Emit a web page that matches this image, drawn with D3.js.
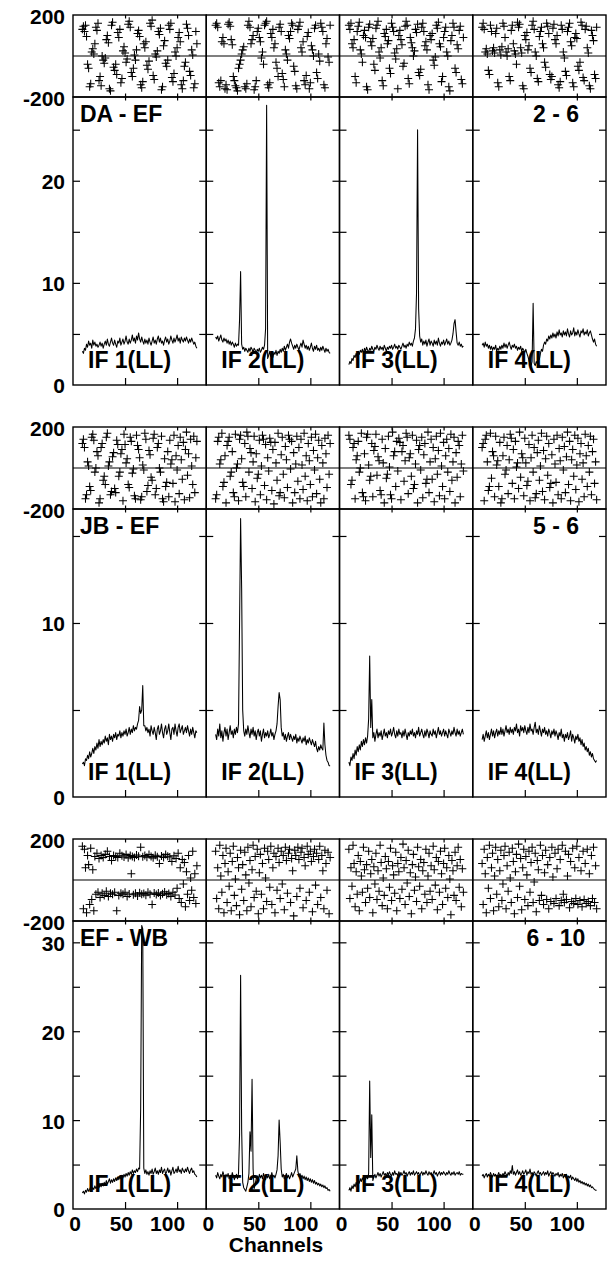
<!DOCTYPE html>
<html><head><meta charset="utf-8">
<script src="https://cdn.jsdelivr.net/npm/d3@7"></script>
<style>
body{margin:0;background:#fff}
svg{display:block}
text{font-family:"Liberation Sans",Arial,Helvetica,sans-serif;font-weight:bold;fill:#000}
</style>
</head><body>
<svg id="chart" width="607" height="1262"></svg>
<script>
// ---------- data ----------
const firstChannel = 9;               // first plotted channel of every IF
const channelDomain = [0, 128];
const channelTicks = [0, 50, 100];
const ifLabels = ["IF 1(LL)", "IF 2(LL)", "IF 3(LL)", "IF 4(LL)"];
const baselineNames = ["DA - EF", "JB - EF", "EF - WB"];
const antennaPairs = ["2 - 6", "5 - 6", "6 - 10"];
const phaseDomain = [-200, 200];
const phaseTickLabels = [-200, 200];
const ampMax = [28.2, 16.55, 32.4];
const ampTickLabels = [[0, 10, 20], [0, 10], [0, 10, 20, 30]];
const ampMinorStep = 5;

// amplitudes, channels 9..119
const ampDAEF1 = [3.3,3.1,3.6,3.4,4.0,3.7,4.3,3.9,4.1,3.6, 4.4,3.9,4.2,3.8,4.0,3.7,3.9,4.2,3.8,4.1, 3.6,4.0,4.3,3.9,4.5,4.0,3.8,4.2,4.6,4.1, 3.9,4.4,4.0,3.7,4.3,4.1,4.6,3.9,4.2,4.5, 4.0,4.3,4.8,4.2,4.0,4.5,4.1,4.4,4.9,4.3, 4.6,4.1,4.8,4.4,5.1,4.5,4.2,4.7,4.3,4.0, 4.5,4.1,4.4,4.0,4.6,4.2,3.9,4.3,4.7,4.1, 4.4,4.0,4.5,4.8,4.2,4.6,4.1,4.3,3.9,4.4, 4.7,4.2,4.5,4.0,4.3,4.8,4.4,4.1,4.6,4.2, 4.5,4.9,4.3,4.6,4.1,4.7,4.4,4.2,4.6,4.3, 4.7,4.4,4.1,4.5,4.2,4.6,4.3,4.0,4.2,3.8,3.6];
const ampDAEF2 = [4.7,4.5,4.8,4.3,4.6,4.9,4.4,4.2,4.6,4.3, 4.5,4.1,4.4,4.0,4.3,3.9,4.2,4.0,3.7,4.1, 3.8,4.0,3.9,6.4,11.1,4.0,3.5,3.7,3.3,3.6, 3.4,3.2,3.6,3.3,3.7,3.5,3.2,3.6,3.4,3.1, 3.5,3.3,3.6,3.2,3.4,3.7,3.5,3.9,5.5,27.4, 2.6,2.9,3.3,2.8,3.1,2.7,3.2,3.0,3.4,2.9, 3.3,3.1,3.5,3.2,3.6,3.3,3.8,3.4,3.7,4.0, 3.6,4.2,4.5,4.1,3.8,3.5,3.9,3.6,4.0,3.7, 3.4,3.8,4.1,3.7,4.4,4.0,3.6,3.9,3.5,3.8, 3.4,3.7,4.1,3.6,3.3,3.8,3.5,3.9,3.4,3.6, 3.3,3.7,3.4,3.8,3.5,3.2,3.6,3.3,3.5,3.2,3.1];
const ampDAEF3 = [2.0,2.3,2.1,2.6,2.4,2.9,2.7,3.1,2.8,3.3, 3.0,3.4,3.2,3.5,3.1,3.6,3.3,3.7,3.4,3.2, 3.6,3.4,3.8,3.5,3.3,3.7,3.5,3.9,3.6,3.4, 3.8,3.5,3.7,3.4,3.9,3.6,3.3,3.7,3.5,3.8, 3.6,3.9,3.5,3.7,4.0,3.6,3.8,3.5,3.9,3.7, 3.5,3.8,4.1,3.7,3.9,3.6,4.0,3.8,4.2,3.9, 4.1,3.8,4.3,4.6,5.5,9.0,25.0,7.5,4.8,4.2, 4.5,3.9,4.3,4.0,4.4,3.8,4.2,4.5,3.9,4.3, 4.1,3.8,4.4,4.0,4.3,3.9,4.6,4.1,3.8,4.2, 4.0,4.4,3.9,4.2,4.5,4.0,4.3,3.9,4.1,4.4, 5.0,6.0,6.4,5.2,4.1,3.9,4.2,3.8,4.0,3.7,3.8];
const ampDAEF4 = [3.9,4.1,3.7,4.2,3.8,4.0,3.6,3.9,3.5,3.8, 3.4,3.7,3.5,3.9,3.3,3.6,3.4,3.8,3.5,3.9, 3.6,4.1,3.7,4.0,3.6,3.9,4.2,3.8,3.5,3.9, 3.7,4.0,3.6,3.8,3.4,3.7,3.5,3.8,3.3,3.6, 3.4,3.2,3.5,3.1,2.8,2.4,2.1,1.9,2.3,8.0, 2.1,1.9,2.3,2.1,2.7,2.5,3.1,3.5,3.3,3.9, 4.2,4.0,4.5,4.3,4.8,4.5,4.9,4.6,5.1,4.7, 5.0,4.6,5.2,4.8,5.4,4.9,5.1,4.7,5.3,4.9, 5.2,4.8,5.5,5.0,4.7,5.3,4.9,5.1,5.6,4.8, 5.2,4.9,5.4,5.0,4.7,5.3,5.1,5.5,4.9,5.2, 5.0,5.4,4.8,5.1,5.3,4.9,4.5,4.2,4.5,4.0,3.8];
const ampJBEF1 = [1.9,2.0,1.8,2.2,2.1,2.4,2.2,2.6,2.3,2.5, 2.8,2.5,2.9,2.7,3.1,2.8,3.3,2.9,3.2,3.0, 3.3,3.1,3.5,3.2,3.4,3.0,3.6,3.3,3.5,3.2, 3.6,3.4,3.7,3.3,3.6,3.5,3.8,3.4,3.7,3.5, 3.8,3.6,3.9,3.5,3.7,4.0,3.6,3.9,3.7,4.1, 3.8,4.0,3.9,4.2,4.4,5.2,4.8,5.0,6.4,4.1, 4.1,3.8,4.0,3.7,3.9,3.5,4.1,3.8,3.6,4.0, 3.7,3.3,3.9,4.1,3.6,3.8,4.2,3.7,3.4,3.9, 4.1,3.6,3.8,4.2,3.7,3.3,3.9,4.0,3.6,4.2, 3.8,3.5,4.0,4.2,3.7,3.9,4.1,3.6,3.8,4.0, 3.7,4.1,3.8,3.5,3.9,3.6,4.0,3.7,3.4,3.8,3.7];
const ampJBEF2 = [3.6,3.3,3.9,3.5,4.2,3.4,3.8,3.2,3.7,4.0, 3.5,3.9,3.3,3.7,4.1,3.6,3.8,3.4,3.9,3.6, 4.0,3.7,4.2,10.0,16.0,12.0,5.0,3.8,3.5,3.9, 3.6,4.1,3.7,3.4,3.9,3.6,4.0,3.5,3.8,3.3, 3.7,3.9,3.5,3.8,3.2,3.6,3.9,3.4,3.7,3.5, 3.8,3.4,3.6,3.9,3.5,3.7,3.3,3.6,3.8,4.2, 5.2,6.0,5.6,4.0,3.5,3.7,3.3,3.6,3.2,3.5, 3.7,3.3,3.6,3.4,3.2,3.5,3.3,3.6,3.1,3.4, 3.2,3.5,3.3,3.1,3.4,3.2,3.5,3.0,3.3,3.1, 3.4,3.2,3.0,3.3,3.1,2.9,3.2,2.8,2.6,2.9, 2.7,3.0,2.8,2.7,4.25,3.0,2.4,2.1,2.0,1.8,1.8];
const ampJBEF3 = [2.0,1.8,2.3,2.1,2.5,2.2,2.7,2.4,2.9,2.6, 3.0,2.7,3.2,2.9,3.3,3.0,3.4,3.1,3.5,4.5, 8.1,4.0,5.6,3.4,3.7,3.2,3.6,3.9,3.4,3.7, 3.5,3.8,3.3,3.6,3.9,3.5,3.7,3.4,3.8,3.6, 3.9,3.5,3.7,4.0,3.6,3.4,3.8,3.5,3.9,3.6, 3.7,3.4,3.8,3.5,3.9,3.6,3.3,3.7,3.5,3.8, 3.6,3.9,3.5,3.7,3.4,3.8,3.6,4.0,3.5,3.7, 3.9,3.6,3.4,3.8,3.5,3.9,3.7,3.4,3.8,3.6, 3.5,3.9,3.6,3.8,3.4,3.7,4.0,3.6,3.8,3.5, 3.7,3.9,3.5,3.8,3.6,3.4,3.9,3.7,3.5,3.8, 3.6,4.0,3.7,3.5,3.9,3.6,3.8,3.5,3.7,3.9,3.6];
const ampJBEF4 = [3.3,3.6,3.2,3.5,3.8,3.4,3.7,3.3,3.6,3.9, 3.5,3.8,3.4,3.7,3.9,3.5,3.8,3.6,4.0,3.6, 3.9,3.5,3.8,4.1,3.7,3.9,3.6,4.0,3.7,3.9, 3.6,4.0,3.8,4.2,3.7,3.9,3.5,4.1,3.8,4.0, 3.7,4.1,3.8,3.6,4.0,3.7,4.2,3.8,3.9,3.6, 4.0,4.3,3.7,3.9,3.6,4.1,3.8,3.5,3.9,3.7, 4.0,3.6,3.8,3.5,3.9,3.7,3.4,3.8,3.6,3.9, 3.5,3.8,3.6,3.3,3.7,3.5,3.9,3.4,3.6,3.2, 3.6,3.4,3.7,3.3,3.5,3.8,3.2,3.6,3.4,3.1, 3.5,3.3,3.6,3.2,3.4,3.0,3.3,2.9,3.1,2.7, 2.9,2.6,2.8,2.4,2.6,2.3,2.5,2.2,2.1,2.0,2.1];
const ampEFWB1 = [1.8,2.0,1.7,2.1,1.9,2.3,2.0,2.2,2.5,2.1, 2.4,2.2,2.6,2.3,2.5,2.8,2.4,2.7,2.5,2.9, 2.6,3.0,2.7,3.2,2.8,3.1,3.4,2.9,3.3,3.0, 3.4,3.1,3.5,3.2,3.6,3.3,3.7,3.4,3.8,3.5, 3.9,3.6,4.0,3.7,4.1,3.8,4.2,3.9,4.4,4.0, 4.3,4.1,4.5,4.2,4.6,4.5,11.3,31.9,31.5,4.6, 4.0,4.4,3.9,4.2,3.8,4.3,4.0,4.5,3.9,4.2, 4.6,4.0,4.3,3.9,4.4,4.1,4.7,4.0,4.3,4.5, 3.9,4.2,4.6,4.1,4.4,3.8,4.3,4.7,4.0,4.2, 4.5,4.1,4.8,4.2,4.4,4.0,4.6,4.3,4.1,4.5, 4.2,4.7,4.3,4.0,4.4,4.6,4.1,4.3,3.9,3.8,3.6];
const ampEFWB2 = [3.8,3.5,4.1,3.7,3.4,3.9,3.6,4.2,3.8,3.5, 3.9,3.6,4.0,3.4,3.8,3.5,4.1,3.7,3.3,3.6, 3.9,3.4,4.0,8.4,26.3,9.0,3.0,2.4,2.2,2.0, 2.5,3.0,4.0,8.7,6.5,14.6,4.5,2.3,2.8,3.4, 3.7,3.3,3.9,3.5,3.8,3.4,4.0,3.6,3.3,3.8, 3.5,3.9,3.4,3.7,4.1,3.6,3.8,3.5,3.9,4.4, 6.0,10.0,7.5,4.5,3.6,3.9,3.4,3.7,4.0,3.5, 3.8,3.4,3.7,4.1,3.6,3.9,4.2,4.5,6.0,4.3, 3.7,4.0,3.5,3.8,3.4,3.7,3.3,3.6,3.2,3.5, 3.1,3.4,3.0,3.3,2.9,3.2,2.8,3.0,2.7,2.9, 2.6,2.8,2.5,2.7,2.4,2.6,2.3,2.4,2.1,2.2,2.0];
const ampEFWB3 = [2.1,2.4,2.0,2.6,2.3,2.8,2.5,3.0,2.7,3.2, 2.9,3.4,3.1,3.5,3.2,3.6,3.3,3.7,3.4,4.0, 14.4,5.8,10.6,3.2,3.6,3.9,3.5,3.8,4.1,3.7, 4.0,3.6,3.9,4.2,3.8,4.0,3.7,4.1,3.8,4.2, 3.9,3.7,4.1,3.8,4.3,3.9,4.0,3.7,4.2,3.9, 4.1,3.8,4.0,4.3,3.9,4.1,3.7,4.0,4.2,3.8, 4.1,3.9,4.3,3.8,4.0,4.2,3.9,4.1,3.7,4.0, 4.2,3.8,4.1,3.9,4.3,4.0,3.8,4.2,3.9,4.1, 3.8,4.0,4.3,3.9,4.1,3.7,4.0,4.2,3.8,4.1, 3.9,4.2,4.0,3.8,4.1,3.9,4.3,4.0,3.8,4.1, 3.9,4.2,3.8,4.0,4.1,3.9,4.2,3.8,4.0,3.9,3.9];
const ampEFWB4 = [3.7,3.9,3.5,3.8,4.0,3.6,3.9,3.7,4.1,3.8, 3.6,4.0,3.7,3.9,3.5,3.8,4.1,3.7,3.9,3.6, 4.0,3.8,4.2,3.9,3.7,4.1,3.8,4.3,4.0,4.9, 3.9,4.2,3.8,4.1,4.4,3.9,4.2,3.8,4.0,4.3, 3.9,4.1,4.4,3.8,4.2,4.0,4.5,3.9,4.1,3.8, 4.2,4.0,3.7,4.1,4.3,3.9,4.1,3.8,4.0,4.2, 3.8,4.1,3.9,4.3,3.7,4.0,4.2,3.8,4.1,3.9, 3.7,4.0,3.8,4.1,3.6,3.9,3.7,4.0,3.5,3.8, 3.6,3.9,3.4,3.7,3.5,3.8,3.3,3.6,3.4,3.2, 3.5,3.1,3.4,3.0,3.2,2.9,3.1,2.8,3.0,2.7, 2.9,2.6,2.8,2.5,2.7,2.4,2.5,2.3,2.2,2.1,2.1];

// phases (degrees), channels 9..119
const phDAEF1 = [130,145,120,150,95,-40,-60,-150,-135,20, 35,10,60,140,125,160,-120,-100,-145,0, -20,-35,-10,80,100,65,-160,-170,150,165, -55,-70,-40,-90,115,90,130,-130,-110,25, 45,15,-30,-15,155,170,140,-80,-100,-60, 5,-20,30,110,125,95,-140,-155,-125,60, 40,70,-45,-65,-25,160,145,175,-95,-115, 10,-5,25,120,105,135,-165,-150,50,75, -35,-50,-20,150,130,160,-105,-125,-85,20, 0,40,90,115,70,-140,-160,-120,-50,-30, 155,135,100,-75,-95,30,5,-155,-135,120,60];
const phDAEF2 = [150,160,140,-130,-150,-120,70,90,60,-160, -140,-165,155,165,145,80,55,-100,-120,-145, -155,-170,-60,-40,-20,10,30,45,-150,-160, -135,150,170,140,60,80,100,-165,-150,-120, 120,135,90,70,-10,20,-40,150,160,170, -140,-155,-130,110,90,130,40,60,-30,-60, -100,140,155,120,-85,-115,-150,30,10,-20, 100,85,120,160,150,-50,-75,-145,-160,130, 145,165,40,20,70,-120,-140,-95,95,115, -160,-130,50,30,0,135,150,-80,-110,10, -25,160,140,120,-140,-155,60,85,-5,-30,150];
const phDAEF3 = [150,130,160,60,40,80,-100,-130,120,145, 165,30,10,-30,100,125,90,-150,-165,140, 155,70,50,85,-40,-70,135,150,170,20, -10,40,-120,-145,110,95,130,60,75,-60, -85,160,140,120,15,-15,35,-160,100,125, 80,55,-50,-35,145,170,150,-110,-135,90, 65,40,0,25,130,115,155,-80,-95,-65, 140,160,120,50,70,30,-140,-165,100,80, 110,-20,-45,-5,150,135,165,60,45,-125, -100,90,120,140,20,0,-150,-170,75,100, 160,140,-60,-80,55,35,125,145,-115,-135,90];
const phDAEF4 = [140,160,130,20,35,10,-70,-90,150,120, 25,40,15,110,135,-130,-150,30,5,45, 160,145,90,20,0,35,-100,-120,125,150, 60,25,10,-40,165,140,155,40,15,-145, -160,100,80,115,30,50,-60,-80,150,170, 130,20,0,-110,-125,95,120,140,60,40, -30,-55,160,145,110,-90,-115,-100,135,155, 80,60,100,-140,-155,-125,150,130,20,-10, -75,-95,120,140,160,70,50,-130,-150,90, 110,85,-50,-70,-30,165,150,-105,-120,130, 145,40,15,-145,-160,125,100,75,-90,-110,140];
const phJBEF1 = [120,140,100,-150,-130,30,10,-90,-110,150, 165,135,-20,0,80,60,-170,-150,100,120, -60,-40,-80,150,170,10,30,-130,-115,55, 75,-100,-120,135,115,-40,-20,70,90,-160, 165,115,25,45,-80,-95,150,130,-25,-5, -135,-150,160,110,90,50,-155,-140,15,-10, 170,140,-115,-85,85,65,-45,-60,145,165, -130,-100,100,120,0,-20,155,-150,-165,45, -90,-70,80,-140,135,20,40,-75,160,-165, 60,-10,110,-125,150,40,-55,125,-155,90, 175,-35,70,-145,140,10,-80,155,-120,50,130];
const phJBEF2 = [-150,-130,130,150,20,40,170,-90,-70,60, -170,110,130,150,-40,-20,80,-120,-140,165, 0,20,-160,140,160,45,-70,-90,120,-140, 175,155,-20,95,75,-100,30,155,-165,70, -50,-30,135,-130,10,160,140,-85,115,-155, 50,-15,145,125,-110,90,-175,125,25,-60, 170,-135,-120,65,150,-30,-145,105,40,-95, 160,140,-5,130,-170,75,-120,20,155,-65, 100,-150,140,15,-105,170,-40,60,-160,120, 35,-80,150,-140,85,-10,165,-125,50,135, -55,-170,110,25,-150,145,70,-95,160,-30,120];
const phJBEF3 = [160,140,-80,-60,100,120,-150,40,60,130, -20,0,170,-120,-140,70,-160,150,165,15, -60,-40,120,-140,85,105,165,-35,55,35, -110,-130,140,25,-170,95,-50,-30,155,5, -130,-150,175,60,80,-90,130,-15,145,125, -155,80,110,-65,35,170,150,-125,50,70, -40,160,-100,-80,20,135,-170,90,110,-10, 150,-145,65,120,-75,-55,175,-120,30,140, -55,100,-165,45,155,-30,85,-135,170,10, -90,125,-150,60,140,-20,95,-115,165,-60, 30,150,-170,75,-45,130,110,-140,20,160,-15];
const phJBEF4 = [100,120,-160,140,160,30,-110,-90,170,-50, 80,60,-140,155,15,35,-90,125,-170,-150, 60,150,-30,-10,110,-125,40,165,145,-75, 90,-150,130,5,25,-100,175,-45,70,50, -135,145,25,-85,-65,115,-160,50,160,-20, 100,-145,-125,75,135,-60,10,170,-115,85, -155,45,155,-35,120,-95,-75,65,-170,140, 20,-70,160,-130,95,35,-150,150,-10,105, -120,55,175,-80,130,-160,40,90,-40,160, -105,15,145,-165,70,120,-55,25,-140,165, 60,-90,110,-20,155,-130,80,140,-75,30,-155];
const phEFWB1 = [165,-140,150,60,-160,120,75,-120,155,-95, 50,-150,115,-70,130,-60,105,-85,120,-65, 110,-75,125,-55,140,-80,115,-65,95,-70, 120,-60,115,-150,110,-75,130,-65,118,-70, 112,-60,125,-80,108,-68,120,30,115,-72, 110,-65,122,-78,116,-62,160,-70,113,-66, 119,-74,111,-60,124,-69,115,-120,108,-64, 121,-71,114,-63,80,-75,117,-67,110,-58, 125,-72,116,-66,112,-80,90,-60,118,-73, 105,-40,130,-90,60,-110,100,-20,85,-130, 40,-70,120,-100,10,-50,140,-85,30,-115,70];
const phEFWB2 = [140,-90,60,-140,170,20,-60,120,-160,80, 155,-110,40,-30,130,-150,90,165,-75,5, -125,110,60,-170,145,-45,75,-100,135,25, -150,160,-15,95,-130,50,170,-85,115,-55, 150,-165,35,125,-70,80,-140,155,10,-105, 140,100,-35,165,-120,60,130,-160,115,-50, 155,85,-90,140,-20,120,-145,160,95,-65, 130,150,-110,105,45,-175,145,120,-80,160, 100,-40,135,155,-135,110,70,-100,165,125, -60,140,90,-155,115,150,-25,130,-120,100, 165,-85,120,45,-140,145,80,-50,135,-165,110];
const phEFWB3 = [150,-90,60,-30,170,80,-130,40,-70,120, -150,90,20,-60,160,50,-110,75,-40,140, -85,30,100,-160,65,-20,130,-95,45,-55, 170,85,-125,10,-75,115,55,-140,90,-35, 155,-100,70,25,-65,135,-150,80,40,-90, 110,-45,175,60,-120,95,-15,145,-80,35, -165,75,125,-50,15,-105,160,65,-30,100, -140,45,85,-70,150,-110,20,130,-55,70, -95,165,50,-25,110,-145,90,-60,140,30, -120,80,155,-40,60,-85,120,5,-170,95, 45,-75,135,-100,70,160,-35,100,-130,55,-60];
const phEFWB4 = [80,-120,150,30,-160,110,-40,170,-90,60, 130,-150,20,160,-70,100,-130,45,145,-100, -20,120,165,-140,70,-55,135,10,-110,155, 90,-165,40,125,-85,175,-30,105,-145,60, 150,-95,115,25,-125,140,-60,85,160,-110, -10,130,-155,95,50,-100,170,-75,120,-120, 35,145,-95,75,-140,110,-105,160,15,-115, 130,-90,55,150,-125,100,-100,170,-70,-110, 140,-95,20,125,-135,90,-105,155,-115,60, -90,165,-120,110,-100,45,-130,140,-95,80, -115,150,-105,30,-125,120,-90,160,-110,70,-140];

const ampData = [[ampDAEF1, ampDAEF2, ampDAEF3, ampDAEF4],
                 [ampJBEF1, ampJBEF2, ampJBEF3, ampJBEF4],
                 [ampEFWB1, ampEFWB2, ampEFWB3, ampEFWB4]];
const phaseData = [[phDAEF1, phDAEF2, phDAEF3, phDAEF4],
                   [phJBEF1, phJBEF2, phJBEF3, phJBEF4],
                   [phEFWB1, phEFWB2, phEFWB3, phEFWB4]];

// ---------- layout ----------
const L = 73, R = 606, panelW = (R - L) / 4;
const groupTop = [15, 427, 839];
const phaseH = 82, ampH = 288;
const FONT = "'Liberation Sans', Arial, Helvetica, sans-serif";
const plain = d => String(d);   // ASCII hyphen for negatives, as in the original

const svg = d3.select("#chart");

function styleAxis(g, size) {
  g.attr("font-family", FONT).attr("font-size", size).attr("font-weight", "bold");
  g.select(".domain").remove();
  g.selectAll(".tick line").attr("stroke", "#000").attr("stroke-width", 1.2);
  g.selectAll(".tick text").attr("fill", "#000");
}

baselineNames.forEach((bname, gi) => {
  const top = groupTop[gi];
  const phY = d3.scaleLinear().domain(phaseDomain).range([top + phaseH, top]);
  const ampY = d3.scaleLinear().domain([0, ampMax[gi]]).range([top + phaseH + ampH, top + phaseH]);
  const minorTicks = d3.range(ampMinorStep, ampMax[gi], ampMinorStep);

  for (let p = 0; p < 4; p++) {
    const x0 = L + p * panelW;
    const x = d3.scaleLinear().domain(channelDomain).range([x0, x0 + panelW]);
    const chans = ampData[gi][p].map((_, i) => firstChannel + i);
    const g = svg.append("g");

    // ---- phase panel ----
    g.append("line").attr("x1", x0).attr("x2", x0 + panelW)
      .attr("y1", phY(0)).attr("y2", phY(0)).attr("stroke", "#000").attr("stroke-width", 1.1);
    g.append("g").attr("transform", `translate(0,${top + phaseH})`)
      .call(d3.axisBottom(x).tickValues([50, 100]).tickSize(-3.5).tickFormat(""))
      .call(a => styleAxis(a, 10));
    g.append("g").attr("transform", `translate(0,${top})`)
      .call(d3.axisTop(x).tickValues([50, 100]).tickSize(-3.5).tickFormat(""))
      .call(a => styleAxis(a, 10));
    g.append("g").selectAll("path").data(phaseData[gi][p]).join("path")
      .attr("transform", (d, i) => `translate(${x(chans[i])},${phY(d)})`)
      .attr("d", "M-4,0H4M0,-4V4")
      .attr("stroke", "#000").attr("stroke-width", 1.05).attr("fill", "none");
    g.append("rect").attr("x", x0).attr("y", top).attr("width", panelW).attr("height", phaseH)
      .attr("fill", "none").attr("stroke", "#000").attr("stroke-width", 1.4);

    // ---- amplitude panel ----
    const aTop = top + phaseH, aBot = top + phaseH + ampH;
    g.append("g").attr("transform", `translate(0,${aBot})`)
      .call(d3.axisBottom(x).tickValues([50, 100]).tickSize(-7).tickFormat(""))
      .call(a => styleAxis(a, 10));
    g.append("g").attr("transform", `translate(0,${aTop})`)
      .call(d3.axisTop(x).tickValues([50, 100]).tickSize(-3.5).tickFormat(""))
      .call(a => styleAxis(a, 10));
    g.append("g").attr("transform", `translate(${x0},0)`)
      .call(d3.axisLeft(ampY).tickValues(minorTicks).tickSize(-7).tickFormat(""))
      .call(a => styleAxis(a, 10));
    g.append("g").attr("transform", `translate(${x0 + panelW},0)`)
      .call(d3.axisRight(ampY).tickValues(minorTicks).tickSize(-7).tickFormat(""))
      .call(a => styleAxis(a, 10));

    const line = d3.line().x((d, i) => x(chans[i])).y(d => ampY(d));
    g.append("path").datum(ampData[gi][p]).attr("d", line)
      .attr("fill", "none").attr("stroke", "#000").attr("stroke-width", 1.05).attr("stroke-linejoin", "round");

    g.append("rect").attr("x", x0).attr("y", aTop).attr("width", panelW).attr("height", ampH)
      .attr("fill", "none").attr("stroke", "#000").attr("stroke-width", 1.4);

    g.append("text").attr("x", x0 + 15).attr("y", aBot - 17)
      .attr("font-size", 23).text(ifLabels[p]);

    // channel labels under the last group
    if (gi === baselineNames.length - 1) {
      g.append("g").attr("transform", `translate(0,${aBot})`)
        .call(d3.axisBottom(x).tickValues(channelTicks).tickSize(0).tickPadding(7).tickFormat(plain))
        .call(a => styleAxis(a, 21))
        .call(a => a.selectAll(".tick text").attr("text-anchor", "end").attr("x", 7.5));
    }
  }

  // left axis labels
  svg.append("g").attr("transform", `translate(${L},0)`)
    .call(d3.axisLeft(phY).tickValues(phaseTickLabels).tickSize(0).tickPadding(8).tickFormat(plain))
    .call(a => styleAxis(a, 21))
    .call(a => a.selectAll(".tick text").attr("dy", "0.42em"));
  svg.append("g").attr("transform", `translate(${L},0)`)
    .call(d3.axisLeft(ampY).tickValues(ampTickLabels[gi]).tickSize(0).tickPadding(8).tickFormat(plain))
    .call(a => styleAxis(a, 21))
    .call(a => a.selectAll(".tick text").attr("dy", "0.38em"));

  // baseline / antenna labels
  svg.append("text").attr("x", L + 7).attr("y", top + phaseH + 25)
    .attr("font-size", 23).text(bname);
  svg.append("text").attr("x", 556).attr("y", top + phaseH + 25)
    .attr("text-anchor", "middle").attr("font-size", 23).text(antennaPairs[gi]);
});

svg.append("text").attr("x", 276).attr("y", 1252)
  .attr("text-anchor", "middle").attr("font-size", 21).text("Channels");
</script>
</body></html>
